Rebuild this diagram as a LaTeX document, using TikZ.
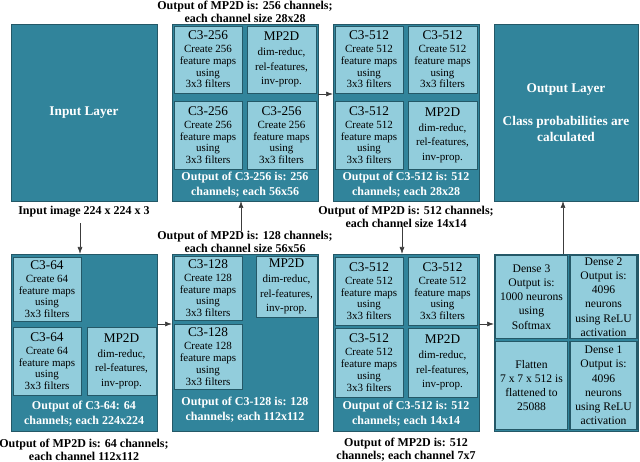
\documentclass[tikz,border=0pt]{standalone}
\usepackage{fontspec}
\setmainfont{Liberation Serif}[BoldFont={Liberation Serif Bold}]
\newfontfamily\tnr{Liberation Serif}[BoldFont={Liberation Serif Bold}]
\usetikzlibrary{arrows.meta}
\definecolor{tealdark}{RGB}{49,132,155}
\definecolor{tealight}{RGB}{146,205,220}
\definecolor{edgec}{RGB}{36,88,103}
\definecolor{arrowc}{RGB}{60,60,60}
\newcommand\boxtitle[1]{{\fontsize{13.3}{14}\selectfont #1}}
\begin{document}
\begin{tikzpicture}[x=1pt,y=-1pt,
  every node/.style={inner sep=0pt, outer sep=0pt},
  block/.style={draw=edgec, fill=tealdark, line width=0.8pt, anchor=north west},
  cell/.style={draw=edgec, fill=tealight, line width=0.8pt, anchor=north west, align=center, font=\tnr\fontsize{11}{11.7}\selectfont},
  mpcell/.style={cell, font=\tnr\fontsize{11}{14.5}\selectfont},
  dcell/.style={cell, line width=1.2pt, font=\tnr\fontsize{11.6}{14.2}\selectfont},
  band/.style={text=white, font=\tnr\bfseries\fontsize{12}{15}\selectfont, align=center},
  lbl/.style={font=\tnr\bfseries\fontsize{12}{13}\selectfont, align=center},
  big/.style={text=white, font=\tnr\bfseries\fontsize{13.3}{16}\selectfont, align=center},
  arr/.style={draw=arrowc, line width=0.7pt, -{Latex[length=7pt,width=5pt]}}]

\useasboundingbox (0,0) rectangle (640,462);

% ---------- big layers ----------
\node[block, big, minimum width=146pt, minimum height=177pt] (inlayer) at (11,24) {Input Layer};
\node[block, big, minimum width=144pt, minimum height=177pt] (outlayer) at (494,24) {Output Layer\\[17pt]Class probabilities are\\calculated};

% ---------- block C3-64 ----------
\node[block, minimum width=146pt, minimum height=177pt] (b64) at (11,254) {};
\node[cell, minimum width=68pt, minimum height=64pt] (c64a) at (13,257) {\boxtitle{C3-64}\\[1.5pt]Create 64\\feature maps\\using\\3x3 filters};
\node[cell, minimum width=68pt, minimum height=68pt] (c64b) at (13,327) {\boxtitle{C3-64}\\[1.5pt]Create 64\\feature maps\\using\\3x3 filters};
\node[mpcell, minimum width=69pt, minimum height=68pt] (m64) at (87,327) {\boxtitle{MP2D}\\[0.5pt]dim-reduc,\\rel-features,\\inv-prop.};
\node[band] (t64) at (84,414) {Output of C3-64: 64\\channels; each 224x224};

% ---------- block C3-128 ----------
\node[block, minimum width=146pt, minimum height=177pt] (b128) at (172,254) {};
\node[cell, minimum width=68pt, minimum height=64pt] (c128a) at (174,256) {\boxtitle{C3-128}\\[1.5pt]Create 128\\feature maps\\using\\3x3 filters};
\node[cell, minimum width=68pt, minimum height=65pt] (c128b) at (174,324) {\boxtitle{C3-128}\\[1.5pt]Create 128\\feature maps\\using\\3x3 filters};
\node[mpcell, minimum width=61pt, minimum height=61pt] (m128) at (256,256) {\boxtitle{MP2D}\\[0.5pt]dim-reduc,\\rel-features,\\inv-prop.};
\node[band] (t128) at (245,410) {Output of C3-128 is: 128\\channels; each 112x112};

% ---------- block C3-256 ----------
\node[block, minimum width=146pt, minimum height=177pt] (b256) at (172,24) {};
\node[cell, minimum width=68pt, minimum height=67pt] (c256a) at (174,26) {\boxtitle{C3-256}\\[1.5pt]Create 256\\feature maps\\using\\3x3 filters};
\node[mpcell, minimum width=69pt, minimum height=67pt] (m256) at (247,26) {\boxtitle{MP2D}\\[0.5pt]dim-reduc,\\rel-features,\\inv-prop.};
\node[cell, minimum width=68pt, minimum height=68pt] (c256b) at (174,101) {\boxtitle{C3-256}\\[1.5pt]Create 256\\feature maps\\using\\3x3 filters};
\node[cell, minimum width=69pt, minimum height=68pt] (c256c) at (247,101) {\boxtitle{C3-256}\\[1.5pt]Create 256\\feature maps\\using\\3x3 filters};
\node[band] (t256) at (245,185) {Output of C3-256 is: 256\\channels; each 56x56};

% ---------- block C3-512 (top) ----------
\node[block, minimum width=146pt, minimum height=177pt] (b512a) at (333,24) {};
\node[cell, minimum width=68pt, minimum height=67pt] (c512a) at (335,26) {\boxtitle{C3-512}\\[1.5pt]Create 512\\feature maps\\using\\3x3 filters};
\node[cell, minimum width=69pt, minimum height=67pt] (c512b) at (408,26) {\boxtitle{C3-512}\\[1.5pt]Create 512\\feature maps\\using\\3x3 filters};
\node[cell, minimum width=68pt, minimum height=68pt] (c512c) at (335,101) {\boxtitle{C3-512}\\[1.5pt]Create 512\\feature maps\\using\\3x3 filters};
\node[mpcell, minimum width=69pt, minimum height=68pt] (m512a) at (408,101) {\boxtitle{MP2D}\\[0.5pt]dim-reduc,\\rel-features,\\inv-prop.};
\node[band] (t512a) at (406,185) {Output of C3-512 is: 512\\channels; each 28x28};

% ---------- block C3-512 (bottom) ----------
\node[block, minimum width=146pt, minimum height=177pt] (b512b) at (333,254) {};
\node[cell, minimum width=68pt, minimum height=68pt] (c512d) at (335,257) {\boxtitle{C3-512}\\[1.5pt]Create 512\\feature maps\\using\\3x3 filters};
\node[cell, minimum width=69pt, minimum height=68pt] (c512e) at (408,257) {\boxtitle{C3-512}\\[1.5pt]Create 512\\feature maps\\using\\3x3 filters};
\node[cell, minimum width=68pt, minimum height=69pt] (c512f) at (335,328) {\boxtitle{C3-512}\\[1.5pt]Create 512\\feature maps\\using\\3x3 filters};
\node[mpcell, minimum width=69pt, minimum height=69pt] (m512b) at (408,328) {\boxtitle{MP2D}\\[0.5pt]dim-reduc,\\rel-features,\\inv-prop.};
\node[band] (t512b) at (406,414) {Output of C3-512 is: 512\\channels; each 14x14};

% ---------- dense block ----------
\node[block, minimum width=144pt, minimum height=177pt] (dense) at (494,254) {};
\node[dcell, minimum width=72pt, minimum height=83pt] (d3) at (495.5,255.5) {Dense 3\\Output is:\\1000 neurons\\using\\Softmax};
\node[dcell, minimum width=67pt, minimum height=83pt] (d2) at (570,255.5) {Dense 2\\Output is:\\4096\\neurons\\using ReLU\\activation};
\node[dcell, minimum width=72pt, minimum height=88pt] (fl) at (495.5,341.5) {Flatten\\7 x 7 x 512 is\\flattened to\\25088};
\node[dcell, minimum width=67pt, minimum height=88pt] (d1) at (570,341.5) {Dense 1\\Output is:\\4096\\neurons\\using ReLU\\activation};

% ---------- outside labels ----------
\node[lbl] (inlbl) at (84,212) {Input image 224 x 224 x 3};
\node[lbl] (l64) at (84,449.5) {Output of MP2D is: 64 channels;\\each channel 112x112};
\node[lbl] (l128) at (245,241.5) {Output of MP2D is: 128 channels;\\each channel size 56x56};
\node[lbl] (l256) at (245,11.5) {Output of MP2D is: 256 channels;\\each channel size 28x28};
\node[lbl] (l512a) at (406,216.5) {Output of MP2D is: 512 channels;\\each channel size 14x14};
\node[lbl] (l512b) at (406,449.5) {Output of MP2D is: 512\\channels; each channel 7x7};

% ---------- connectors ----------
\coordinate (xa) at (80,0);
\coordinate (xb) at (241,0);
\coordinate (xc) at (402,0);
\coordinate (xd) at (563,0);
\coordinate (ya) at (0,324);
\coordinate (yb) at (0,94);
\draw[arr] ([yshift=-6pt]inlbl.south -| xa) -- (b64.north -| xa);
\draw[arr] (b64.east |- ya) -- (b128.west |- ya);
\draw[arr] (l128.north -| xb) -- (b256.south -| xb);
\draw[arr] (b256.east |- yb) -- (b512a.west |- yb);
\draw[arr] (l512a.south -| xc) -- (b512b.north -| xc);
\draw[arr] (b512b.east |- ya) -- (dense.west |- ya);
\draw[arr] (dense.north -| xd) -- (outlayer.south -| xd);
\end{tikzpicture}
\end{document}
